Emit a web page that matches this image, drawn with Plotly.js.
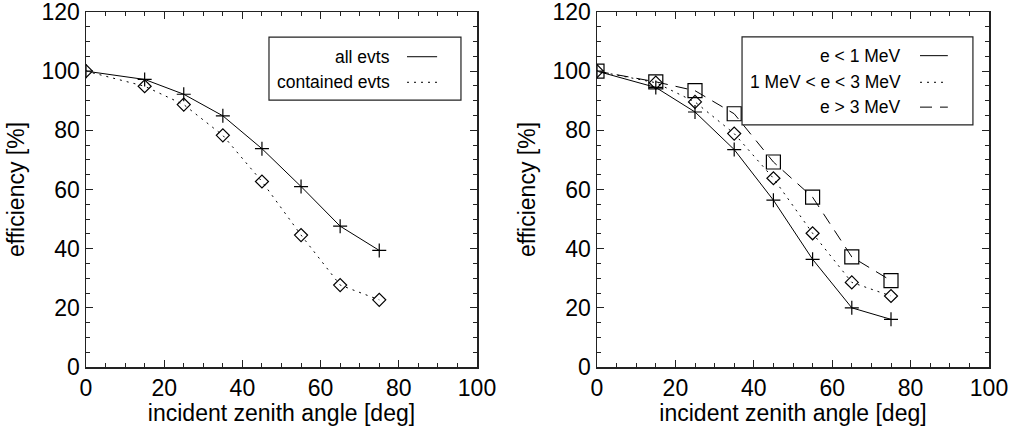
<!DOCTYPE html>
<html>
<head>
<meta charset="utf-8">
<script src="https://cdn.plot.ly/plotly-3.0.1.min.js"></script>
<style>html,body{margin:0;padding:0;background:#fff}#chart{width:1011px;height:426px}</style>
</head>
<body>
<div id="chart"></div>
<script>
// ---- data ----
var angles = [0, 15, 25, 35, 45, 55, 65, 75];
var allEvts = [100, 97.2, 92.2, 84.9, 73.8, 61.0, 47.6, 39.4];
var containedEvts = [100, 94.9, 88.7, 78.3, 62.7, 44.6, 27.7, 22.7];
var eLow = [100, 94.5, 86.2, 73.5, 56.4, 36.4, 20.0, 16.1];
var eMid = [100, 96.1, 89.6, 78.9, 63.8, 45.2, 28.6, 24.0];
var eHigh = [100, 96.4, 93.4, 85.6, 69.3, 57.4, 37.2, 29.2];
var leftNames = ["all evts", "contained evts"];
var rightNames = ["e < 1 MeV", "1 MeV < e < 3 MeV", "e > 3 MeV"];
var xTitle = "incident zenith angle [deg]";
var yTitle = "efficiency [%]";

var FONT = "Liberation Sans, Arial, Helvetica, sans-serif";
var DOT = "2px,5px";
var DASH = "12px,8px";

function trace(x, y, name, sym, size, dash, xa, ya) {
  return {
    x: x, y: y, name: name, type: "scatter", mode: "lines+markers",
    xaxis: xa, yaxis: ya, showlegend: false, cliponaxis: true,
    line: {color: "#000", width: 1, dash: dash},
    marker: {symbol: sym, size: size, color: "#000",
             line: {color: "#000", width: 1.2}}
  };
}

var data = [
  trace(angles, allEvts, leftNames[0], "cross-thin-open", 10, "solid", "x", "y"),
  trace(angles, containedEvts, leftNames[1], "diamond-open", 10, DOT, "x", "y"),
  trace(angles, eLow, rightNames[0], "cross-thin-open", 10, "solid", "x2", "y2"),
  trace(angles, eMid, rightNames[1], "diamond-open", 10, DOT, "x2", "y2"),
  trace(angles, eHigh, rightNames[2], "square-open", 14, DASH, "x2", "y2")
];

function common() {
  return {
    ticks: "inside", ticklen: 7, tickwidth: 1, tickcolor: "#222",
    minor: {dtick: 5, ticklen: 4, ticks: "inside", tickcolor: "#222", tickwidth: 1},
    showline: true, mirror: "allticks", linecolor: "#222", linewidth: 1.5,
    showgrid: false, zeroline: false, fixedrange: true,
    ticklabeloverflow: "allow",
    tickfont: {family: FONT, size: 23, color: "#000"},
    automargin: false
  };
}
function xaxis(domain, anchor) {
  var a = common();
  a.domain = domain; a.anchor = anchor; a.range = [0, 100]; a.dtick = 20; a.tick0 = 0;
  a.title = {text: xTitle, font: {family: FONT, size: 23, color: "#000"}, standoff: 2};
  return a;
}
function yaxis(domain, anchor) {
  var a = common();
  a.domain = domain; a.anchor = anchor; a.range = [0, 120]; a.dtick = 20; a.tick0 = 0;
  a.title = {text: yTitle, font: {family: FONT, size: 23, color: "#000"}, standoff: 10};
  return a;
}

var W = 1011, H = 426;
var yDom = [1 - 367 / H, 1 - 12 / H];
var layout = {
  width: W, height: H,
  margin: {l: 0, r: 0, t: 0, b: 0},
  paper_bgcolor: "#fff", plot_bgcolor: "#fff",
  showlegend: false,
  xaxis: xaxis([86 / W, 477 / W], "y"),
  yaxis: yaxis(yDom, "x"),
  xaxis2: xaxis([597 / W, 989 / W], "y2"),
  yaxis2: yaxis(yDom, "x2"),
  shapes: [],
  annotations: []
};

// custom legends (text on the left, line sample on the right)
function addLegend(xa, ya, box, rows, names, dashes, textRight, lineX) {
  layout.shapes.push({type: "rect", xref: xa + " domain", yref: ya + " domain",
    x0: box[0], x1: box[1], y0: box[2], y1: box[3],
    line: {color: "#222", width: 1.2}, fillcolor: "#fff", layer: "above"});
  for (var i = 0; i < names.length; i++) {
    layout.annotations.push({xref: xa + " domain", yref: ya + " domain",
      x: textRight, y: rows[i], xanchor: "right", yanchor: "middle",
      text: names[i], showarrow: false,
      font: {family: FONT, size: 17.5, color: "#000"}});
    layout.shapes.push({type: "line", xref: xa + " domain", yref: ya + " domain",
      x0: lineX[0], x1: lineX[1], y0: rows[i], y1: rows[i],
      line: {color: "#000", width: 1, dash: dashes[i]}, layer: "above"});
  }
}
addLegend("x", "y", [0.468, 0.959, 0.752, 0.929], [0.874, 0.802],
  leftNames, ["solid", DOT], 0.783, [0.821, 0.898]);
addLegend("x2", "y2", [0.370, 0.959, 0.682, 0.930], [0.877, 0.802, 0.732],
  rightNames, ["solid", DOT, DASH], 0.781, [0.824, 0.895]);

Plotly.newPlot("chart", data, layout, {staticPlot: true, displayModeBar: false});
</script>
</body>
</html>
